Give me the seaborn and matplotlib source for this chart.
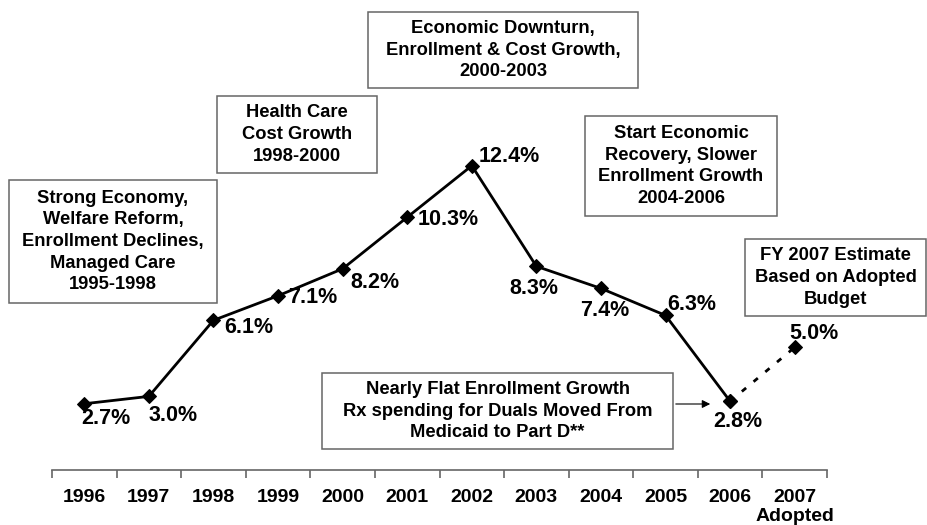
import matplotlib
matplotlib.use('Agg')
import matplotlib.pyplot as plt
import matplotlib.patches as mpatches
import pandas as pd
import seaborn as sns

# Data
years = ['1996', '1997', '1998', '1999', '2000', '2001', '2002',
         '2003', '2004', '2005', '2006', '2007\nAdopted']
growth = [2.7, 3.0, 6.1, 7.1, 8.2, 10.3, 12.4, 8.3, 7.4, 6.3, 2.8, 5.0]
labels = ['2.7%', '3.0%', '6.1%', '7.1%', '8.2%', '10.3%', '12.4%',
          '8.3%', '7.4%', '6.3%', '2.8%', '5.0%']

# label offsets from each point, in pixels (right, down)
label_offsets = [(22, 15), (24, 19), (35, 7), (35, 2), (32, 14), (41, 2),
                 (37, -9), (-3, 22), (4, 22), (26, -11), (8, 20), (19, -14)]

# annotation boxes: text, left, top, right, bottom (pixels)
boxes = [
    ('Strong Economy,\nWelfare Reform,\nEnrollment Declines,\nManaged Care\n1995-1998', 9, 180, 217, 303),
    ('Health Care\nCost Growth\n1998-2000', 217, 96, 377, 173),
    ('Economic Downturn,\nEnrollment & Cost Growth,\n2000-2003', 368, 12, 638, 88),
    ('Start Economic\nRecovery, Slower\nEnrollment Growth\n2004-2006', 585, 116, 777, 216),
    ('FY 2007 Estimate\nBased on Adopted\nBudget', 745, 239, 926, 316),
    ('Nearly Flat Enrollment Growth\nRx spending for Duals Moved From\nMedicaid to Part D**', 322, 373, 673, 449),
]

df = pd.DataFrame({'x': range(len(years)), 'growth': growth})
actual = df.iloc[:11]
estimate = df.iloc[10:]

sns.set_style('white')
plt.rcParams['font.family'] = ['Liberation Sans', 'DejaVu Sans']
plt.rcParams['font.weight'] = 'bold'
plt.rcParams['text.color'] = 'black'
plt.rcParams['xtick.color'] = 'black'

W, H = 927, 525
fig = plt.figure(figsize=(W / 100, H / 100), dpi=100)
ax = fig.add_axes([52 / W, 55 / H, (827 - 52) / W, 470 / H])
ax.patch.set_alpha(0)

sns.lineplot(data=actual, x='x', y='growth', ax=ax, color='black', lw=2,
             marker='D', markersize=7, markeredgecolor='black')
sns.lineplot(data=estimate, x='x', y='growth', ax=ax, color='black', lw=2,
             linestyle=(0, (2, 3.5)), marker='D', markersize=7,
             markeredgecolor='black')

for i, (lab, (dx, dy)) in enumerate(zip(labels, label_offsets)):
    ax.annotate(lab, (i, growth[i]), xytext=(dx, -dy), textcoords='offset pixels',
                ha='center', va='center', fontsize=15.5, fontweight='bold')

ax.set_xlim(-0.5, len(years) - 0.5)
ax.set_ylim(0, 470 / 24.54)
ax.set_xlabel('')
ax.set_ylabel('')
ax.set_yticks([])
ax.set_xticks(range(len(years)))
ax.set_xticklabels(years, fontsize=14, fontweight='bold', linespacing=1.1)
ax.set_xticks([i - 0.5 for i in range(len(years) + 1)], minor=True)
ax.tick_params(axis='x', which='major', bottom=False, length=0, pad=14)
ax.tick_params(axis='x', which='minor', bottom=True, length=6, width=1.2,
               color='#666666', direction='out')
for s in ['top', 'right', 'left']:
    ax.spines[s].set_visible(False)
ax.spines['bottom'].set_color('#666666')
ax.spines['bottom'].set_linewidth(1.2)

# text boxes
for txt, l, t, r, b in boxes:
    rect = mpatches.Rectangle((l / W, 1 - b / H), (r - l) / W, (b - t) / H,
                              transform=fig.transFigure, fill=True,
                              facecolor='white', edgecolor='#666666', lw=1.1)
    fig.patches.append(rect)
    fig.text((l + r) / 2 / W, 1 - (t + b) / 2 / H, txt, ha='center',
             va='center', fontsize=13.2, fontweight='bold', linespacing=1.35)

# arrow from the Part D box to 2006
fig.add_artist(mpatches.FancyArrowPatch((673 / W, 1 - 404 / H), (713 / W, 1 - 404 / H),
                                        transform=fig.transFigure,
                                        arrowstyle='-|>', mutation_scale=12,
                                        color='black', lw=0.8))

fig.savefig('out.png', dpi=100)
